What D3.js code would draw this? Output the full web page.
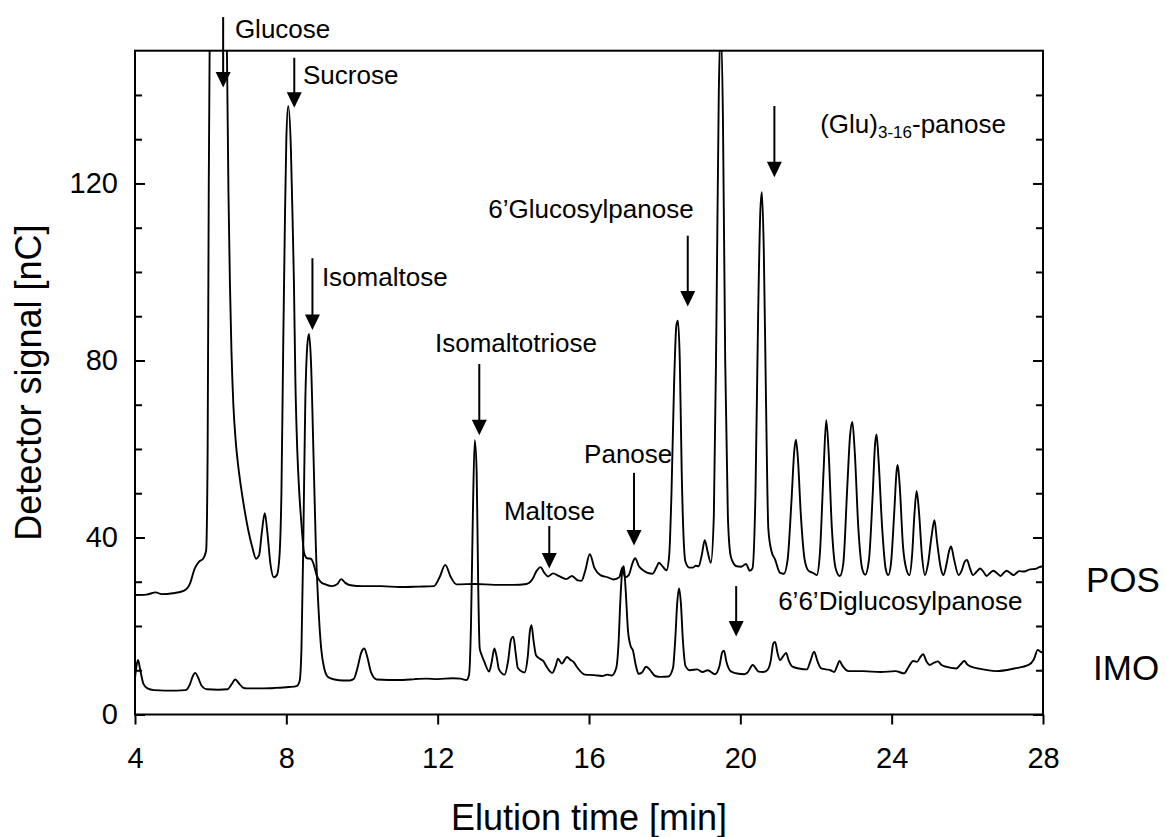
<!DOCTYPE html>
<html>
<head>
<meta charset="utf-8">
<script src="https://cdn.jsdelivr.net/npm/d3@7/dist/d3.min.js"></script>
<style>
  body { margin: 0; background: #fff; }
  svg { font-family: "Liberation Sans", Arial, Helvetica, sans-serif; }
</style>
</head>
<body>
<svg id="chart" width="1166" height="837"></svg>
<script>
// [elution time (min), detector signal (nC)]
const posTrace = [
    [4.00, 27.0], [4.30, 27.1], [4.55, 27.6], [4.70, 27.2], [5.00, 27.4], [5.30, 28.0], [5.45, 29.5],
    [5.58, 33.0], [5.70, 34.6], [5.80, 35.2], [5.88, 37.0], [5.92, 60], [5.95, 120], [5.98, 160],
    [6.05, 185], [6.20, 200], [6.38, 172], [6.43, 150], [6.47, 118], [6.51, 97], [6.55, 82],
    [6.60, 70], [6.66, 62], [6.73, 56], [6.80, 51.5], [6.90, 46], [6.99, 41.8], [7.10, 37.8], [7.20, 35.2],
    [7.28, 36.0], [7.35, 41.0], [7.43, 45.5], [7.50, 41.0], [7.58, 34.0], [7.67, 31.0], [7.75, 31.5],
    [7.82, 36], [7.87, 50], [7.92, 85], [7.96, 110], [8.00, 130], [8.05, 137.5], [8.12, 128],
    [8.17, 110], [8.20, 98], [8.24, 75], [8.28, 62], [8.33, 52], [8.40, 43], [8.47, 36.5],
    [8.55, 35.3], [8.65, 35.2], [8.72, 34.0], [8.80, 31.5], [8.90, 30.0], [9.00, 29.5], [9.20, 29.0],
    [9.35, 29.5], [9.45, 30.6], [9.55, 29.8], [9.70, 29.2], [10.0, 29.0], [10.5, 29.0], [11.0, 28.8],
    [11.5, 28.9], [11.9, 29.0], [12.05, 31.0], [12.2, 33.8], [12.35, 31.0], [12.5, 29.4], [13.0, 29.5],
    [13.5, 29.3], [14.0, 29.3], [14.35, 29.5], [14.5, 30.5], [14.62, 32.5], [14.72, 33.3], [14.82, 32.0],
    [14.92, 31.2], [15.05, 31.9], [15.2, 31.3], [15.4, 30.6], [15.55, 31.3], [15.7, 30.3], [15.8, 30.2],
    [15.9, 32.5], [16.02, 36.2], [16.15, 33.0], [16.3, 31.5], [16.5, 31.0], [16.65, 30.5], [16.8, 31.0],
    [16.88, 33.2], [16.95, 31.0], [17.05, 31.5], [17.15, 34.2], [17.22, 35.3], [17.32, 33.5],
    [17.45, 32.5], [17.55, 32.0], [17.68, 31.8], [17.78, 33.2], [17.85, 34.3], [17.95, 33.4],
    [18.05, 32.6], [18.12, 36], [18.18, 50], [18.25, 75], [18.31, 88], [18.35, 89], [18.40, 80],
    [18.45, 55], [18.50, 40], [18.55, 34.5], [18.65, 33.2], [18.75, 33.2], [18.82, 33.6], [18.90, 33.5],
    [18.98, 36.0], [19.06, 39.4], [19.13, 37.0], [19.22, 34.3], [19.30, 45], [19.37, 90], [19.43, 140],
    [19.48, 155], [19.54, 135], [19.60, 80], [19.67, 45], [19.74, 36], [19.80, 34.5], [19.90, 33.5],
    [20.02, 33.4], [20.15, 34.0], [20.25, 32.5], [20.32, 33], [20.40, 50], [20.47, 90], [20.53, 114],
    [20.57, 118], [20.62, 105], [20.68, 70], [20.74, 42], [20.82, 37], [20.92, 35], [21.05, 32],
    [21.15, 31.8], [21.25, 35], [21.35, 48], [21.43, 60], [21.47, 62.1], [21.52, 58], [21.60, 45],
    [21.70, 35], [21.80, 32.5], [21.92, 32], [22.02, 31.5], [22.10, 36], [22.20, 55], [22.27, 66.5],
    [22.33, 60], [22.42, 42], [22.52, 33], [22.63, 31.3], [22.72, 34], [22.83, 52], [22.90, 63],
    [22.96, 66.1], [23.02, 60], [23.12, 42], [23.22, 33], [23.30, 31.6], [23.40, 35], [23.50, 50],
    [23.56, 61], [23.60, 63.3], [23.65, 58], [23.75, 42], [23.84, 33], [23.91, 31.5], [23.98, 34],
    [24.07, 46], [24.13, 55], [24.16, 56.4], [24.21, 52], [24.30, 38], [24.40, 32.5], [24.47, 31.5],
    [24.54, 36], [24.60, 45], [24.66, 50.5], [24.72, 46], [24.80, 36], [24.88, 31.5], [24.96, 34],
    [25.05, 40], [25.13, 43.9], [25.20, 39], [25.30, 33], [25.37, 31.5], [25.45, 34], [25.52, 37],
    [25.57, 38], [25.65, 35], [25.77, 31.5], [25.85, 32.5], [25.93, 34.5], [25.99, 34.9], [26.07, 33],
    [26.15, 31.5], [26.25, 32.3], [26.34, 33], [26.43, 32.2], [26.51, 31.3], [26.60, 32], [26.69, 32.5],
    [26.80, 31.8], [26.88, 31.3], [26.96, 32], [27.04, 32.5], [27.13, 32], [27.22, 31.5], [27.30, 32],
    [27.37, 32.4], [27.50, 32.3], [27.66, 32.8], [27.80, 32.9], [27.90, 33.3], [28.00, 33.5]
];

const imoTrace = [
    [4.00, 8.2], [4.04, 11], [4.08, 12.3], [4.14, 10], [4.22, 7], [4.33, 5.9], [4.50, 5.5], [4.80, 5.4],
    [5.10, 5.4], [5.34, 5.5], [5.45, 6.8], [5.52, 8.5], [5.59, 9.4], [5.66, 8.5], [5.76, 6.5], [5.90, 5.7],
    [6.20, 5.6], [6.45, 5.7], [6.55, 6.8], [6.65, 7.9], [6.75, 7.0], [6.85, 6.1], [6.96, 5.9], [7.30, 5.9],
    [7.70, 6.0], [8.07, 6.2], [8.27, 6.4], [8.35, 7.5], [8.40, 15], [8.45, 40], [8.50, 70], [8.56, 84],
    [8.60, 86], [8.65, 80], [8.72, 58], [8.78, 38], [8.85, 24], [8.92, 15], [9.00, 10.5], [9.10, 8.5],
    [9.28, 7.9], [9.50, 7.7], [9.68, 7.7], [9.78, 8], [9.88, 10.5], [9.98, 14], [10.06, 14.9], [10.14, 13],
    [10.24, 9.5], [10.39, 7.9], [10.7, 7.8], [11.09, 7.8], [11.4, 8.0], [11.7, 8.1], [12.0, 8.0],
    [12.4, 8.2], [12.6, 8.1], [12.76, 7.8], [12.83, 9], [12.88, 20], [12.93, 45], [12.98, 62],
    [13.03, 55], [13.07, 30], [13.11, 15], [13.16, 13.5], [13.23, 12], [13.36, 9.7], [13.42, 11.5],
    [13.50, 14.9], [13.56, 13], [13.62, 10.2], [13.77, 9.0], [13.86, 12], [13.94, 17], [14.00, 17.6],
    [14.06, 14], [14.12, 10.5], [14.30, 9.5], [14.38, 13], [14.44, 19], [14.48, 20.2], [14.53, 17],
    [14.60, 13.4], [14.70, 12.6], [14.80, 12], [14.88, 10.8], [15.03, 9.4], [15.12, 11], [15.18, 12.6],
    [15.28, 11.5], [15.42, 13.0], [15.50, 12.4], [15.59, 11.9], [15.70, 10.5], [15.89, 9.0],
    [16.14, 8.9], [16.34, 8.7], [16.49, 9.0], [16.60, 8.8], [16.72, 10.5], [16.78, 16], [16.83, 26],
    [16.88, 32.5], [16.92, 33.5], [16.97, 28], [17.03, 19], [17.10, 15.5], [17.16, 14.5], [17.24, 11],
    [17.31, 9.2], [17.40, 9.5], [17.51, 10.8], [17.60, 10.2], [17.75, 8.7], [17.90, 8.5], [18.10, 8.6],
    [18.22, 10.5], [18.28, 17], [18.33, 25], [18.38, 28.5], [18.43, 25], [18.48, 17], [18.55, 11],
    [18.67, 10.0], [18.86, 10.2], [19.00, 9.6], [19.14, 10.0], [19.33, 9.1], [19.45, 11], [19.52, 14],
    [19.57, 14.4], [19.63, 12], [19.76, 9.7], [19.95, 9.2], [20.10, 9.1], [20.19, 9.5], [20.33, 11.2],
    [20.48, 9.7], [20.60, 9.6], [20.71, 10], [20.80, 12], [20.87, 16], [20.92, 16.4], [20.98, 14],
    [21.05, 12.3], [21.12, 13], [21.21, 13.9], [21.28, 12.2], [21.38, 10.8], [21.55, 10.4],
    [21.76, 10.2], [21.85, 12], [21.95, 14.2], [22.04, 12], [22.14, 10.4], [22.38, 10.0], [22.48, 9.6],
    [22.56, 11], [22.62, 12.1], [22.70, 11], [22.86, 9.8], [23.24, 9.8], [23.71, 9.6], [24.10, 9.8],
    [24.33, 9.3], [24.45, 10.8], [24.57, 12.1], [24.67, 11.9], [24.76, 13], [24.83, 13.6], [24.92, 12],
    [25.00, 11.2], [25.12, 11.7], [25.22, 12.0], [25.32, 11.2], [25.43, 10.8], [25.71, 10.4],
    [25.82, 11.3], [25.92, 12.1], [26.00, 11.3], [26.10, 10.8], [26.29, 10.4], [26.76, 9.8],
    [27.24, 10.4], [27.62, 11.2], [27.76, 12.5], [27.86, 14.6], [27.93, 14.2], [28.00, 13.9]
];

const xTicks = [4, 8, 12, 16, 20, 24, 28];
const yTicks = [0, 40, 80, 120];
const yMinorTicks = [10, 20, 30, 50, 60, 70, 90, 100, 110, 130, 140];

// peak annotations: arrow at time, from signal -> to signal; label anchored at (labelTime, labelSignal)
const peakNames = ['Glucose', 'Sucrose', 'Isomaltose', 'Isomaltotriose', 'Maltose', 'Panose',
    '6’Glucosylpanose', '(Glu)3-16-panose', '6’6’Diglucosylpanose'];
const arrowTimes = [6.33, 8.21, 8.69, 13.10, 14.95, 17.19, 18.61, 20.90, 19.89];
const arrowFrom = [157.6, 148.4, 103.1, 79.2, 42.6, 54.6, 108.2, 137.5, 29.0];
const arrowTo = [141.7, 137.1, 86.9, 63.1, 33.0, 38.2, 92.2, 121.4, 17.6];
const labelTimes = [6.64, 8.44, 8.94, 11.93, 13.75, 15.87, 13.34, 22.11, 21.0];
const labelSignals = [152.9, 142.5, 96.9, 81.9, 43.9, 56.8, 112.3, 131.5, 23.6];

const width = 1166;
const height = 837;
const margin = {top: 50.7, right: 123, bottom: 122.5, left: 135};

const svg = d3.select('#chart');

const xScale = d3.scaleLinear()
    .domain([4, 28])
    .range([margin.left, width - margin.right]);

const yScale = d3.scaleLinear()
    .domain([0, 150])
    .range([height - margin.bottom, margin.top]);

svg.append('defs').append('clipPath')
    .attr('id', 'plot-clip')
    .append('rect')
    .attr('x', margin.left)
    .attr('y', margin.top)
    .attr('width', xScale(28) - xScale(4))
    .attr('height', yScale(0) - yScale(150));

const line = d3.line()
    .x(d => xScale(d[0]))
    .y(d => yScale(d[1]))
    .curve(d3.curveMonotoneX);

svg.append('g')
    .attr('clip-path', 'url(#plot-clip)')
    .selectAll('path')
    .data([posTrace, imoTrace])
    .enter()
    .append('path')
    .attr('fill', 'none')
    .attr('stroke', '#000')
    .attr('stroke-width', 1.9)
    .attr('stroke-linejoin', 'round')
    .attr('d', line);

// axes - ticks point inward on left/right, outward on bottom
const styleAxis = g => {
    g.select('.domain').remove();
    g.selectAll('line').attr('stroke', '#000').attr('stroke-width', 2);
    g.selectAll('text').attr('fill', '#000').style('font-size', '29px');
};

svg.append('g')
    .attr('transform', `translate(0,${yScale(0)})`)
    .call(d3.axisBottom(xScale).tickValues(xTicks).tickSize(10).tickPadding(23))
    .call(styleAxis);

svg.append('g')
    .attr('transform', `translate(${xScale(4)},0)`)
    .call(d3.axisLeft(yScale).tickValues(yTicks).tickSize(-10).tickPadding(17))
    .call(styleAxis);

svg.append('g')
    .attr('transform', `translate(${xScale(4)},0)`)
    .call(d3.axisLeft(yScale).tickValues(yMinorTicks).tickSize(-7).tickFormat(''))
    .call(styleAxis);

svg.append('g')
    .attr('transform', `translate(${xScale(28)},0)`)
    .call(d3.axisRight(yScale).tickValues(yTicks).tickSize(-10).tickFormat(''))
    .call(styleAxis);

svg.append('g')
    .attr('transform', `translate(${xScale(28)},0)`)
    .call(d3.axisRight(yScale).tickValues(yMinorTicks).tickSize(-7).tickFormat(''))
    .call(styleAxis);

// frame
svg.append('rect')
    .attr('x', xScale(4))
    .attr('y', yScale(150))
    .attr('width', xScale(28) - xScale(4))
    .attr('height', yScale(0) - yScale(150))
    .attr('fill', 'none')
    .attr('stroke', '#000')
    .attr('stroke-width', 2);

// axis titles
svg.append('text')
    .attr('x', (xScale(4) + xScale(28)) / 2)
    .attr('y', 830)
    .attr('text-anchor', 'middle')
    .style('font-size', '36px')
    .text('Elution time [min]');

svg.append('text')
    .attr('transform', `translate(41,${(yScale(0) + yScale(150)) / 2}) rotate(-90)`)
    .attr('text-anchor', 'middle')
    .style('font-size', '36px')
    .text('Detector signal [nC]');

// series names at the right
svg.append('text')
    .attr('x', xScale(28) + 43)
    .attr('y', yScale(27.6))
    .style('font-size', '35px')
    .text('POS');

svg.append('text')
    .attr('x', xScale(28) + 50)
    .attr('y', yScale(7.8))
    .style('font-size', '35px')
    .text('IMO');

// arrows and peak names
const notes = svg.append('g');
peakNames.forEach((name, i) => {
    const ax = xScale(arrowTimes[i]);
    const y1 = yScale(arrowFrom[i]);
    const y2 = yScale(arrowTo[i]);
    notes.append('line')
        .attr('x1', ax).attr('x2', ax)
        .attr('y1', y1).attr('y2', y2 - 12)
        .attr('stroke', '#000')
        .attr('stroke-width', 2);
    notes.append('path')
        .attr('d', `M${ax - 7.5},${y2 - 15.5}L${ax + 7.5},${y2 - 15.5}L${ax},${y2}Z`)
        .attr('fill', '#000');

    const label = notes.append('text')
        .attr('x', xScale(labelTimes[i]))
        .attr('y', yScale(labelSignals[i]))
        .style('font-size', '26px');
    if (name.startsWith('(Glu)')) {
        label.append('tspan').text('(Glu)');
        label.append('tspan').attr('dy', 5).style('font-size', '17px').text('3-16');
        label.append('tspan').attr('dy', -5).text('-panose');
    } else {
        label.text(name);
    }
});
</script>
</body>
</html>
